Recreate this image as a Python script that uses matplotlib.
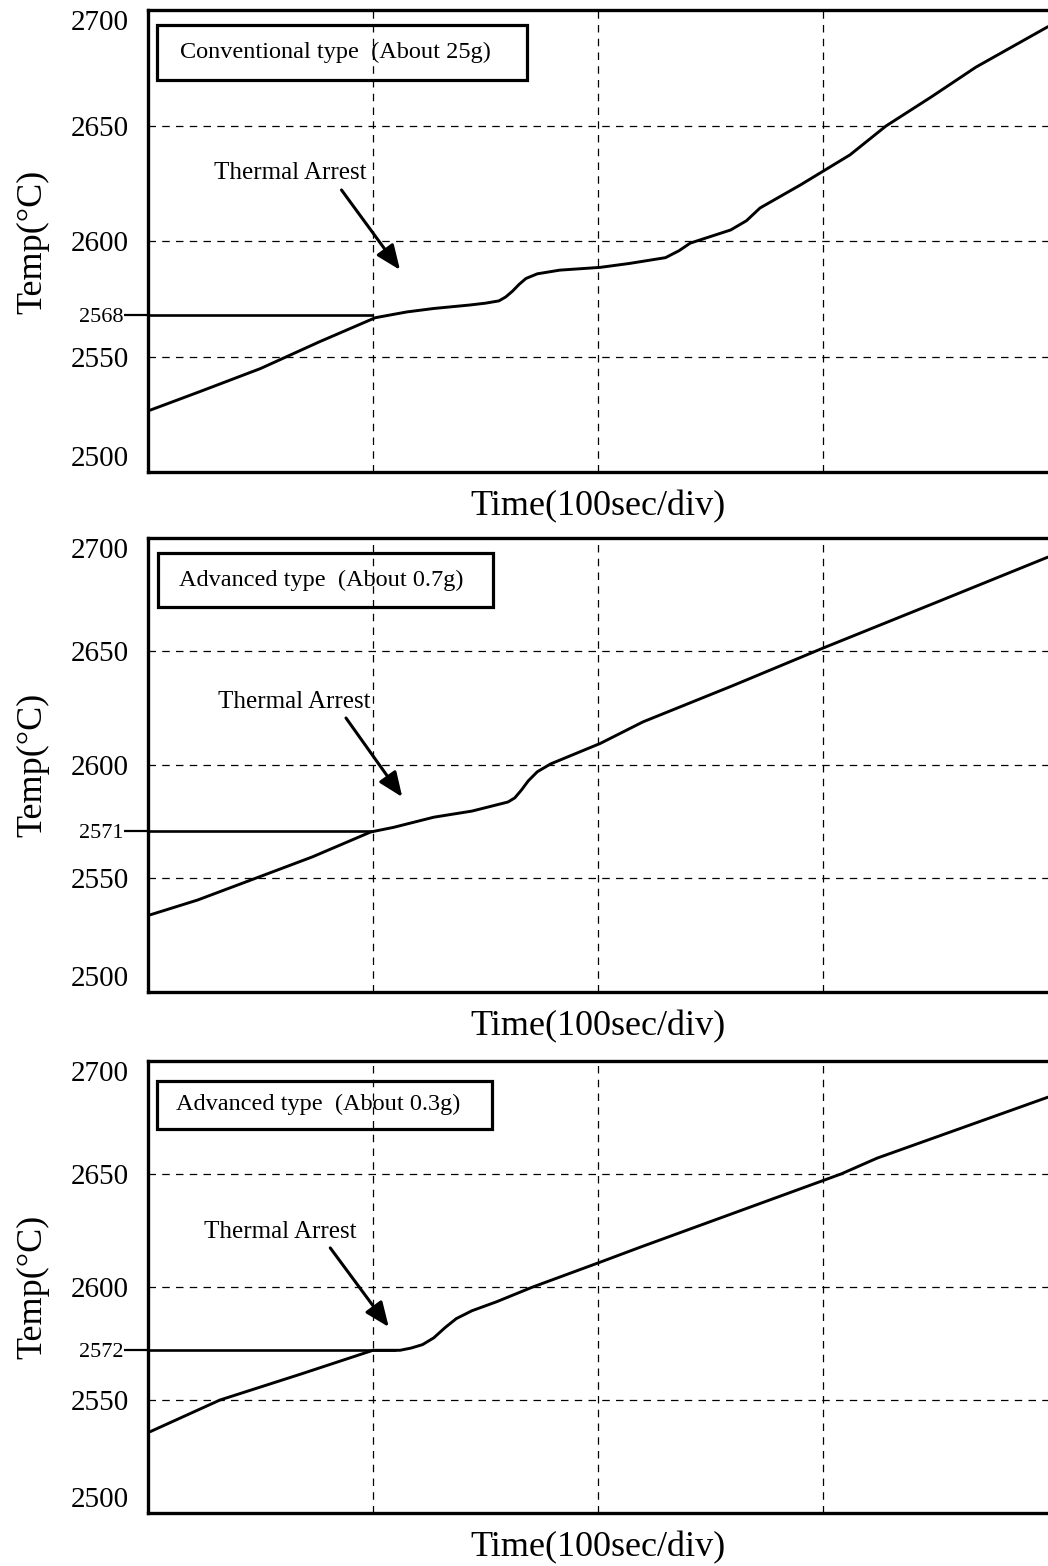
import matplotlib
matplotlib.use('Agg')
import matplotlib.pyplot as plt
from matplotlib.patches import Rectangle

plt.rcParams['font.family'] = ['Liberation Serif', 'DejaVu Serif']

# time in seconds (100 sec/div), temperature in C
t1 = [1, 23, 50, 76, 101, 115, 127, 143, 150, 156, 159, 162, 165, 168, 173, 183, 201, 214, 230, 236, 241,
      259, 266, 272, 290, 312, 328, 348, 368, 400]
temp1 = [2527, 2535, 2545, 2556.5, 2567, 2569.5, 2571, 2572.5, 2573.3, 2574.3, 2576, 2578.5, 2581.5, 2584,
         2586, 2587.6, 2588.8, 2590.5, 2593, 2596, 2599.3, 2605, 2609, 2614.5, 2624.5, 2637.5, 2650,
         2662.5, 2675.5, 2693]

t2 = [1, 22, 47, 73, 99, 109, 127, 144, 160, 163, 166, 169, 173, 179, 190, 201, 220, 260, 300, 350, 400]
temp2 = [2534, 2540.5, 2549.8, 2559.5, 2570.5, 2572.5, 2577, 2579.7, 2583.7, 2585.5, 2589, 2593, 2597,
         2600.5, 2605, 2609.5, 2619, 2635, 2651.5, 2671.5, 2691.6]

t3 = [1, 32, 68, 100, 112, 117, 122, 127, 132, 137, 144, 155, 171, 201, 219, 308, 324, 400]
temp3 = [2536, 2550, 2561.5, 2572, 2572, 2573, 2574.5, 2577.5, 2582, 2586, 2589.5, 2593.5, 2600, 2611,
         2617.7, 2650, 2657, 2684]

box_labels = ['Conventional type  (About 25g)', 'Advanced type  (About 0.7g)', 'Advanced type  (About 0.3g)']
arrest_temps = [2568, 2571, 2572]
arrest_times = [100, 100, 110]

y_ticks = [2500, 2550, 2600, 2650, 2700]
x_grid = [100, 200, 300]


def draw_panel(ax, t, temp, label, arrest_temp, arrest_time, box, text_xy, tail_xy, tip_xy):
    ax.plot(t, temp, color='black', lw=2.1, solid_joinstyle='round', solid_capstyle='round')
    ax.set_xlim(0, 400)
    ax.set_ylim(2500, 2700)

    for y in y_ticks[1:-1]:
        ax.axhline(y, color='black', lw=0.9, ls=(0, (6, 5)))
    for x in x_grid:
        ax.axvline(x, color='black', lw=0.9, ls=(0, (6, 5)))

    ax.set_xticks([])
    ax.set_yticks(y_ticks)
    ax.set_yticklabels([str(v) for v in y_ticks])
    ax.tick_params(axis='y', which='major', length=0, pad=14, labelsize=21)
    # end labels sit inside the frame, like the original
    labels = ax.get_yticklabels()
    labels[0].set_va('bottom')
    labels[-1].set_va('top')
    ax.set_yticks([arrest_temp], minor=True)
    ax.set_yticklabels([str(arrest_temp)], minor=True)
    ax.tick_params(axis='y', which='minor', length=17, width=1.6, pad=1, labelsize=16, direction='out')

    ax.hlines(arrest_temp, 0, arrest_time, color='black', lw=1.9)

    for side in ['left', 'bottom', 'top']:
        ax.spines[side].set_linewidth(2.4)
    ax.spines['right'].set_visible(False)

    ax.set_xlabel('Time(100sec/div)', fontsize=26, labelpad=13)
    ax.set_ylabel('Temp(°C)', fontsize=26)
    ax.yaxis.set_label_coords(-0.11, 0.5)

    x0, y0, x1, y1, tx, ty = box
    ax.add_patch(Rectangle((x0, y0), x1 - x0, y1 - y0, transform=ax.transAxes,
                           fill=False, edgecolor='black', lw=2.3, zorder=5))
    ax.text(tx, ty, label, transform=ax.transAxes, ha='left', va='center', fontsize=17.5, zorder=6)

    ax.text(text_xy[0], text_xy[1], 'Thermal Arrest', ha='center', va='center', fontsize=18)
    ax.annotate('', xy=tip_xy, xytext=tail_xy,
                arrowprops=dict(arrowstyle='-|>,head_length=0.6,head_width=0.25', color='black',
                                lw=2.2, mutation_scale=25, shrinkA=0, shrinkB=0))


fig = plt.figure(figsize=(10.48, 15.66), dpi=100)
left = 148 / 1048
ax1 = fig.add_axes([left, 0.69828, 1 - left, 0.29502])
ax2 = fig.add_axes([left, 0.36654, 1 - left, 0.28991])
ax3 = fig.add_axes([left, 0.03384, 1 - left, 0.28864])

draw_panel(ax1, t1, temp1, box_labels[0], arrest_temps[0], arrest_times[0],
           (0.010, 0.850, 0.421, 0.969, 0.036, 0.909), (63, 2629.7), (86, 2622.3), (112, 2587.7))
draw_panel(ax2, t2, temp2, box_labels[1], arrest_temps[1], arrest_times[1],
           (0.011, 0.848, 0.383, 0.967, 0.034, 0.9075), (65, 2627.8), (88, 2620.7), (113, 2585.9))
draw_panel(ax3, t3, temp3, box_labels[2], arrest_temps[2], arrest_times[2],
           (0.010, 0.850, 0.382, 0.956, 0.031, 0.903), (59, 2624.3), (81, 2617.3), (107, 2582.3))

plt.savefig('out.png', dpi=100)
plt.close(fig)
